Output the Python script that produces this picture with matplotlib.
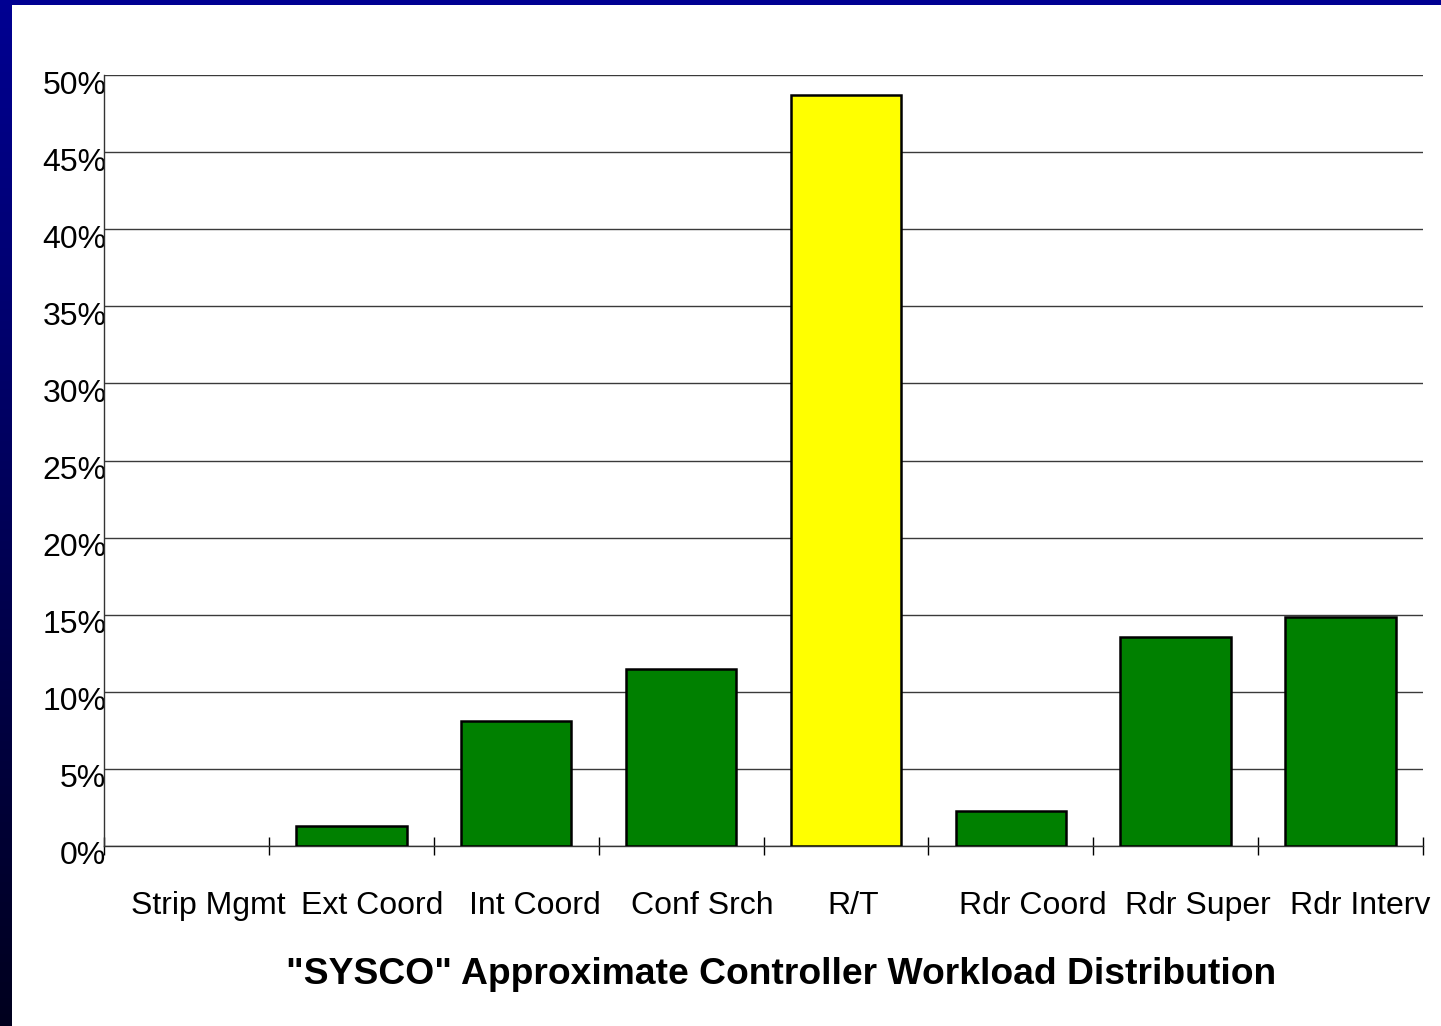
import numpy as np
import matplotlib
matplotlib.use("Agg")
import matplotlib.pyplot as plt
import matplotlib.transforms as mtransforms
from matplotlib.colors import LinearSegmentedColormap

categories = ["Strip Mgmt", "Ext Coord", "Int Coord", "Conf Srch", "R/T",
              "Rdr Coord", "Rdr Super", "Rdr Interv"]
values = [0.0, 1.3, 8.1, 11.5, 48.7, 2.3, 13.55, 14.85]
colors = ["#008000", "#008000", "#008000", "#008000", "#FFFF00",
          "#008000", "#008000", "#008000"]
yticks = [0, 5, 10, 15, 20, 25, 30, 35, 40, 45, 50]
ytick_labels = [f"{v}%" for v in yticks]
title = '"SYSCO" Approximate Controller Workload Distribution'

plt.rcParams['font.family'] = ['Liberation Sans', 'DejaVu Sans']

W, H, DPI = 1441, 1026, 100
fig = plt.figure(figsize=(W / DPI, H / DPI), dpi=DPI)
fig.patch.set_facecolor("white")

# left gradient strip
lax = fig.add_axes([0, 0, 12 / W, 1])
grad = np.linspace(0, 1, 256).reshape(-1, 1)
cmap = LinearSegmentedColormap.from_list("b", ["#000092", "#00001e"])
lax.imshow(grad, aspect="auto", cmap=cmap, extent=[0, 1, 0, 1], origin="upper")
lax.set_axis_off()
# top strip
tax = fig.add_axes([0, 1 - 5 / H, 1, 5 / H])
tax.set_facecolor("#000092")
tax.set_xticks([]); tax.set_yticks([])
for s in tax.spines.values():
    s.set_visible(False)

ax = fig.add_axes([104 / W, 1 - 846 / H, (1423 - 104) / W, (846 - 75) / H])
x = np.arange(len(categories)) + 0.5
edge = ["black" if v > 0 else "none" for v in values]
ax.bar(x, values, width=0.67, color=colors, edgecolor=edge, linewidth=1.8, zorder=3)
ax.set_xlim(0, len(categories))
ax.set_ylim(0, 50)

ax.set_yticks(yticks)
ax.set_yticklabels(ytick_labels, fontsize=23)
ax.tick_params(axis="y", length=0, pad=-1)
ax.yaxis.grid(True, color="#3a3a3a", linewidth=1.0, zorder=0)
ax.set_axisbelow(True)

ax.set_xticks(x)
ax.set_xticklabels(categories, fontsize=23)
ax.tick_params(axis="x", which="major", length=0, pad=0)
ax.set_xticks(np.arange(len(categories) + 1), minor=True)
ax.tick_params(axis="x", which="minor", direction="inout", length=13.5, width=1, color="black")

for s in ["top", "right"]:
    ax.spines[s].set_visible(False)
for s in ["left", "bottom"]:
    ax.spines[s].set_color("#333333")
    ax.spines[s].set_linewidth(1.0)

off_y = mtransforms.ScaledTranslation(1 / DPI, -7 / DPI, fig.dpi_scale_trans)
for lab in ax.get_yticklabels():
    lab.set_transform(lab.get_transform() + off_y)
label_dx = [22, 21, 19, 21, 7, 22, 22, 20]
for lab, dx in zip(ax.get_xticklabels(), label_dx):
    off_x = mtransforms.ScaledTranslation(dx / DPI, -45 / DPI, fig.dpi_scale_trans)
    lab.set_transform(lab.get_transform() + off_x)

fig.text(781 / W, 1 - 975 / H, title, ha="center", va="center",
         fontsize=26.8, fontweight="bold")

fig.savefig("out.png", dpi=DPI, facecolor="white")
